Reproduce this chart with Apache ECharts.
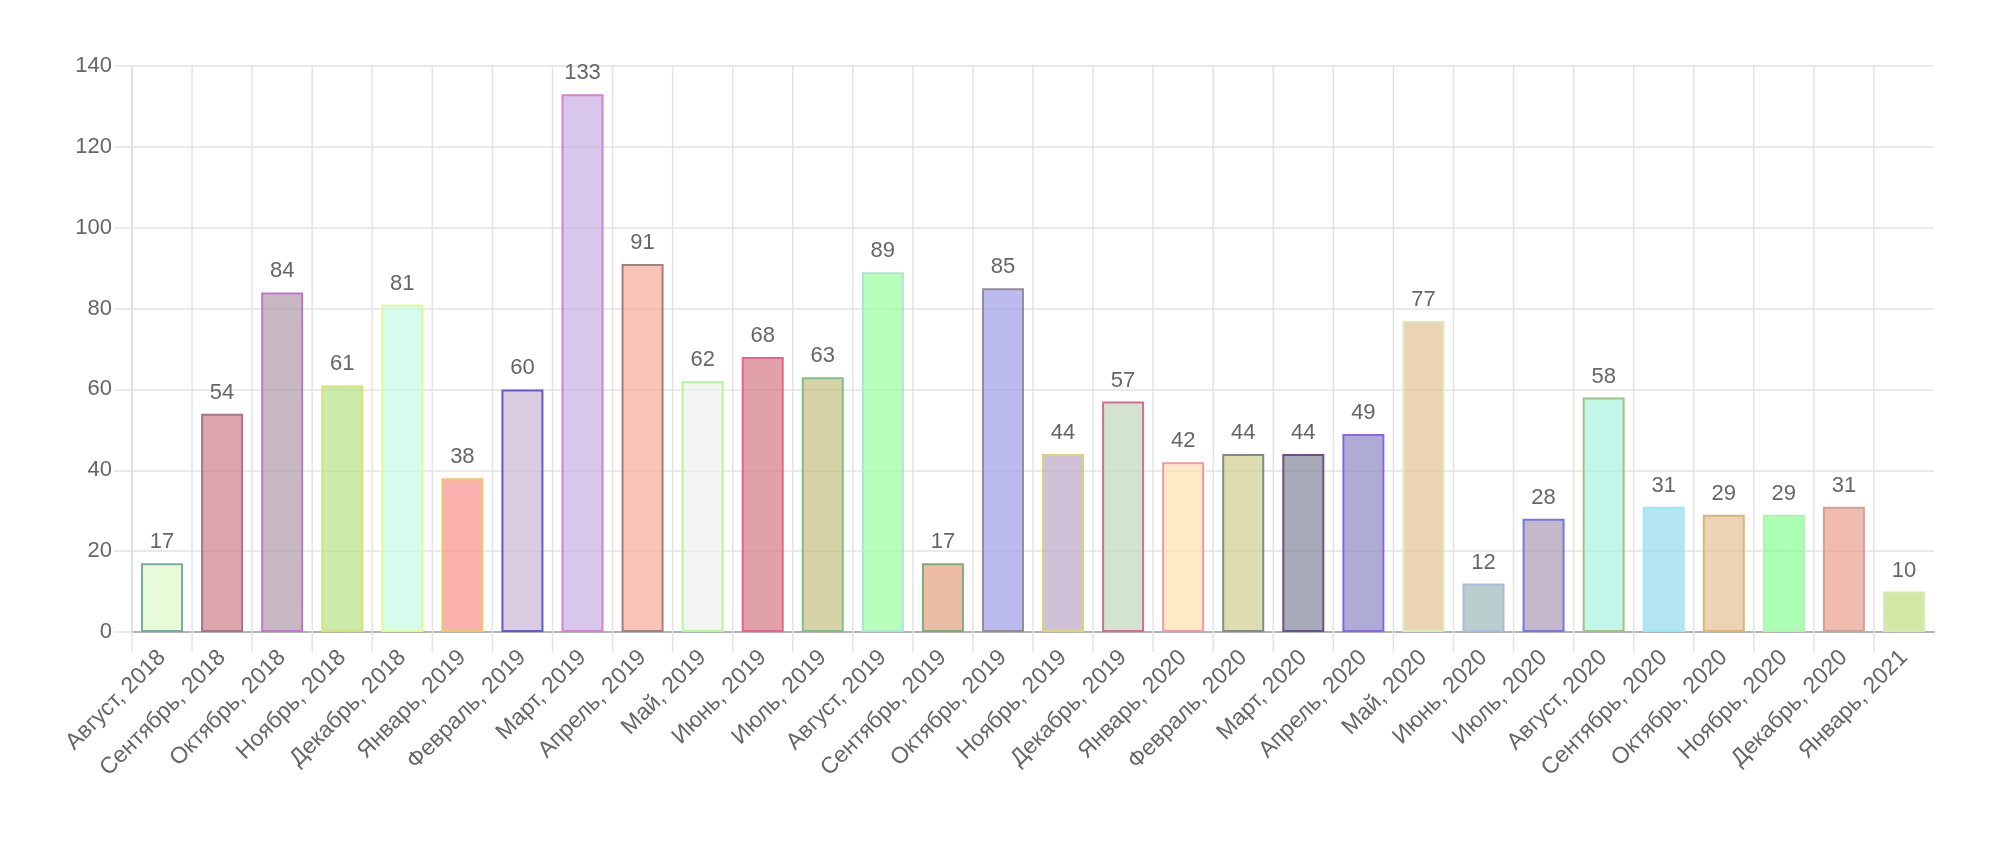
<!DOCTYPE html>
<html>
<head>
<meta charset="utf-8">
<script src="https://cdn.jsdelivr.net/npm/echarts@6/dist/echarts.min.js"></script>
<style>
  html, body { margin: 0; padding: 0; background: #fff; }
  #chart { width: 2000px; height: 850px; }
</style>
</head>
<body>
<div id="chart"></div>
<script>
const months = [
  'Август, 2018', 'Сентябрь, 2018', 'Октябрь, 2018', 'Ноябрь, 2018', 'Декабрь, 2018',
  'Январь, 2019', 'Февраль, 2019', 'Март, 2019', 'Апрель, 2019', 'Май, 2019',
  'Июнь, 2019', 'Июль, 2019', 'Август, 2019', 'Сентябрь, 2019', 'Октябрь, 2019',
  'Ноябрь, 2019', 'Декабрь, 2019', 'Январь, 2020', 'Февраль, 2020', 'Март, 2020',
  'Апрель, 2020', 'Май, 2020', 'Июнь, 2020', 'Июль, 2020', 'Август, 2020',
  'Сентябрь, 2020', 'Октябрь, 2020', 'Ноябрь, 2020', 'Декабрь, 2020', 'Январь, 2021'
]
const counts = [
  17, 54, 84, 61, 81, 38, 60, 133, 91, 62,
  68, 63, 89, 17, 85, 44, 57, 42, 44, 44,
  49, 77, 12, 28, 58, 31, 29, 29, 31, 10
]
const yMin = 0
const yMax = 140
const yStep = 20

// colours as they look over white; fill gets turned into a translucent rgba
const fillSeen = [
  '#e8fbd8', '#dea5ac', '#c8b8c4', '#cdebaa', '#d6fcee', '#fab0ac', '#dacce1', '#d8c6ec', '#fac4b6', '#f4f4f2',
  '#e0a2a8', '#d7d2a8', '#b9ffbc', '#edbca6', '#bbbbf0', '#d0c0d8', '#d2e4d0', '#fdebc6', '#deddb0', '#a5a9b8',
  '#aeacd6', '#ead4b4', '#bacece', '#c4b8ca', '#c2f6e8', '#b4e4f2', '#ead4b4', '#acfeb4', '#f0bcb0', '#d2e8a4'
]
const borderSeen = [
  '#78aaa0', '#a07886', '#be78c8', '#d7e178', '#e1fa96', '#ebc86e', '#645ac8', '#d282c8', '#a0827d', '#b4f5a0',
  '#e6648c', '#82be8c', '#aae6d2', '#82aa78', '#968c96', '#dcd278', '#d26e96', '#f096aa', '#828c82', '#6e5082',
  '#8c64e6', '#dcebbe', '#afb9dc', '#7878dc', '#a0c382', '#a0e6f5', '#dcb478', '#aff5af', '#d2a096', '#d7ebb4'
]

function translucent(hex, a) {
  const n = parseInt(hex.slice(1), 16)
  const ch = [(n >> 16) & 255, (n >> 8) & 255, n & 255].map(v => Math.max(0, Math.round((v - 255 * (1 - a)) / a)))
  return 'rgba(' + ch.join(',') + ',' + a + ')'
}

const font = "'Liberation Sans', Arial, sans-serif"
const gridColor = '#e3e3e3'
const chart = echarts.init(document.getElementById('chart'))

// vertical grid line on the left side of every month, plus its tick below the axis
// (the reference has none on the right edge, so the axis' own split lines are off)
function monthLine(params, api) {
  const i = api.value(0)
  const top = api.coord([i, yMax])
  const bottom = api.coord([i, yMin])
  const x = top[0] - api.size([1, 0])[0] / 2
  return {
    type: 'line',
    shape: { x1: x, y1: top[1], x2: x, y2: bottom[1] + 20 },
    style: { stroke: gridColor, lineWidth: 1.5 }
  }
}

chart.setOption({
  animation: false,
  grid: { left: 132, right: 66, top: 66, bottom: 218 },
  xAxis: {
    type: 'category',
    data: months,
    axisLine: { lineStyle: { color: '#b3b3b3', width: 2 } },
    axisTick: { show: false },
    splitLine: { show: false },
    axisLabel: {
      rotate: 45,
      margin: 22,
      interval: 0,
      color: '#666',
      fontFamily: font,
      fontSize: 23
    }
  },
  yAxis: {
    type: 'value',
    min: yMin,
    max: yMax,
    interval: yStep,
    axisLine: { show: true, lineStyle: { color: '#d0d0d0', width: 1.5 } },
    axisTick: { show: true, length: 18, lineStyle: { color: gridColor, width: 1.5 } },
    splitLine: { lineStyle: { color: gridColor, width: 1.5 } },
    axisLabel: { margin: 20, color: '#666', fontFamily: font, fontSize: 22 }
  },
  series: [{
    type: 'custom',
    z: 1,
    silent: true,
    data: months.map((m, i) => [i]),
    encode: { x: 0 },
    renderItem: monthLine
  }, {
    type: 'bar',
    z: 2,
    barWidth: 42,
    data: counts.map((v, i) => ({
      value: v,
      itemStyle: {
        color: translucent(fillSeen[i], 0.6),
        borderColor: borderSeen[i],
        borderWidth: 2
      }
    })),
    label: {
      show: true,
      position: 'top',
      distance: 10,
      color: '#666',
      fontFamily: font,
      fontSize: 22
    }
  }]
})
</script>
</body>
</html>
